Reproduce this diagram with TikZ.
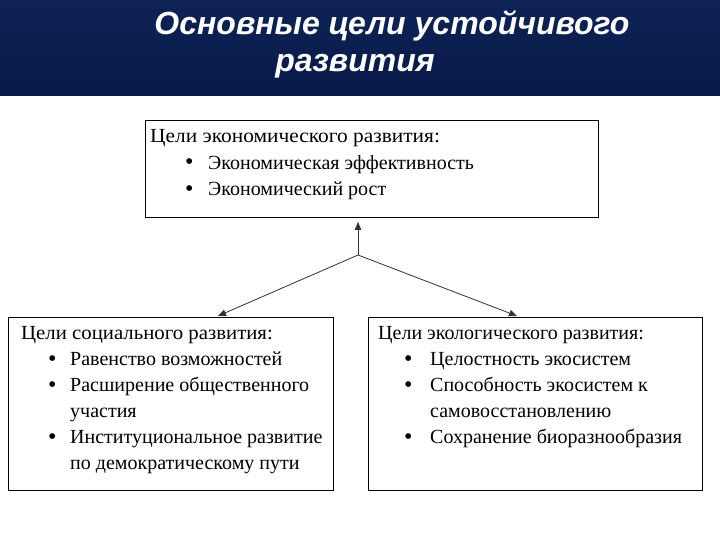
\documentclass[tikz,border=0pt]{standalone}
\usepackage{fontspec}
\setmainfont{Liberation Serif}
\newfontfamily\headfont{Liberation Sans}
\usetikzlibrary{arrows.meta}
\definecolor{navytop}{RGB}{14,34,86}
\definecolor{navybot}{RGB}{8,26,72}
\tikzset{
  box/.style={draw=black, line width=0.9pt, fill=white, anchor=north west, inner sep=0pt},
  txt/.style={anchor=base west, inner sep=0pt, font=\fontsize{20}{26}\selectfont},
  arr/.style={draw=black!80, line width=0.8pt, -{Triangle[length=8pt,width=6.5pt]}},
  head/.style={text=white, font=\headfont\bfseries\itshape\fontsize{32}{34}\selectfont, inner sep=0pt, anchor=base}
}
\newcommand\bul[2]{\makebox[#2pt][l]{\hspace{#1pt}\raisebox{-0.5pt}{\fontsize{24}{24}\selectfont\textbullet}}}
\begin{document}
\begin{tikzpicture}[x=1pt,y=1pt]
\useasboundingbox (0,0) rectangle (720,-540);
\fill[top color=navytop, bottom color=navybot] (0,0) rectangle (720,-96);
\node[head] (t1) at (392,-35) {Основные цели устойчивого};
\node[head] (t2) at (355,-72) {развития};

\node[box, minimum width=453pt, minimum height=97pt] (eco) at (145,-120) {};
\node[box, minimum width=325pt, minimum height=173pt] (soc) at (8,-317) {};
\node[box, minimum width=334pt, minimum height=173pt] (env) at (368,-317) {};

\node[txt] (ecot) at (150,-143) {\fontsize{20}{26.5}\selectfont\begin{tabular}[t]{@{}l@{}l@{}}
\multicolumn{2}{@{}l@{}}{\scalebox{1.07}[1]{Цели экономического развития:}}\\
\bul{35}{58} & Экономическая эффективность\\
\bul{35}{58} & Экономический рост
\end{tabular}};

\node[txt] (soct) at (21,-339.5) {\begin{tabular}[t]{@{}l@{}l@{}}
\multicolumn{2}{@{}l@{}}{\scalebox{1.04}[1]{Цели социального развития:}}\\
\bul{27}{49} & Равенство возможностей\\
\bul{27}{49} & Расширение общественного\\
 & участия\\
\bul{27}{49} & Институциональное развитие\\
 & по демократическому пути
\end{tabular}};

\node[txt] (envt) at (378,-339.5) {\begin{tabular}[t]{@{}l@{}l@{}}
\multicolumn{2}{@{}l@{}}{Цели экологического развития:}\\
\bul{26}{52} & Целостность экосистем\\
\bul{26}{52} & Способность экосистем к\\
 & самовосстановлению\\
\bul{26}{52} & Сохранение биоразнообразия
\end{tabular}};

\coordinate (j) at (358,-255);
\draw[arr] (j) -- ([yshift=-4pt]j |- eco.south);
\draw[arr] (j) -- ([xshift=210pt,yshift=1pt]soc.north west);
\draw[arr] (j) -- ([xshift=149pt,yshift=1pt]env.north west);
\end{tikzpicture}
\end{document}
